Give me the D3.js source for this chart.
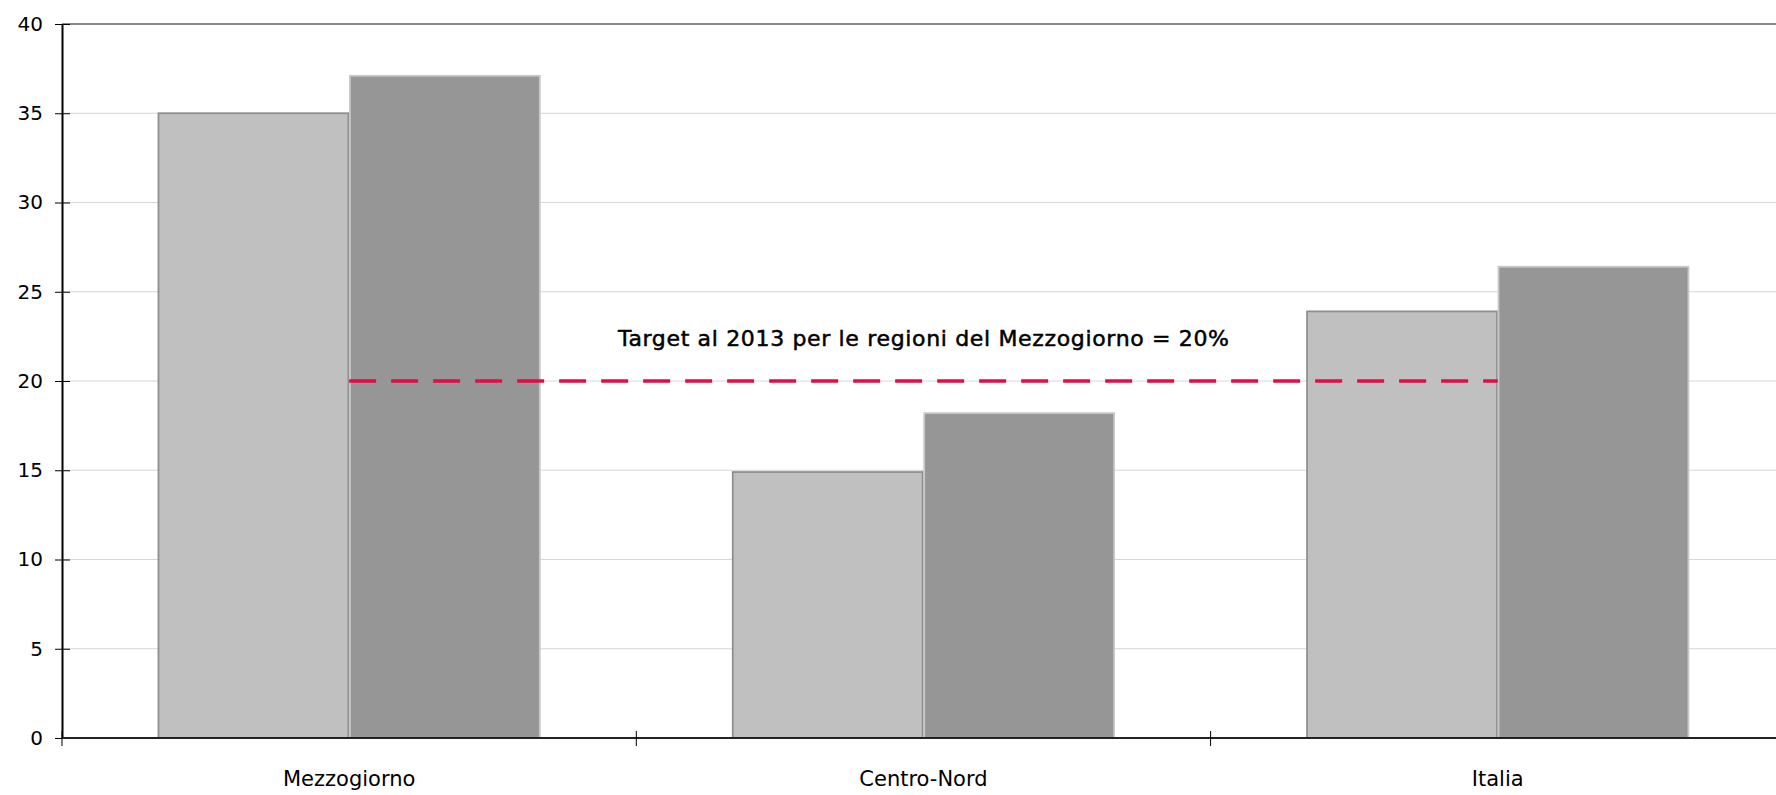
<!DOCTYPE html>
<html>
<head>
<meta charset="utf-8">
<script src="https://cdnjs.cloudflare.com/ajax/libs/d3/7.8.5/d3.min.js"></script>
<style>
  html, body { margin: 0; padding: 0; background: #fff; overflow: hidden; }
  svg { display: block; font-family: "DejaVu Sans", sans-serif; }
</style>
</head>
<body>
<div id="chart"></div>
<script>
  // data
  var categories = ["Mezzogiorno", "Centro-Nord", "Italia"];
  var series = ["serie1", "serie2"];
  var serie1 = [35.0, 14.9, 23.9];
  var serie2 = [37.1, 18.2, 26.4];
  var yTicks = [0, 5, 10, 15, 20, 25, 30, 35, 40];
  var target = 20;
  var targetLabel = "Target al 2013 per le regioni del Mezzogiorno = 20%";

  var width = 1776, height = 795;
  var margin = {top: 24, left: 62, bottom: 57};
  var bandW = 574.3;

  var svg = d3.select("#chart").append("svg")
      .attr("width", width)
      .attr("height", height);

  var x0 = d3.scaleBand()
      .domain(categories)
      .range([margin.left, margin.left + bandW * categories.length])
      .padding(0);
  var x1 = d3.scaleBand()
      .domain(series)
      .range([0, x0.bandwidth()])
      .paddingInner(0)
      .paddingOuter(0.5);
  var y = d3.scaleLinear()
      .domain([0, 40])
      .range([height - margin.bottom, margin.top]);

  var fills = {serie1: "#c0c0c0", serie2: "#969696"};
  var strokes = {serie1: "#8f8f8f", serie2: "#c8c8c8"};

  // gridlines
  svg.append("g").selectAll("line")
    .data(yTicks.filter(function(d) { return d > 0; }))
    .enter().append("line")
      .attr("x1", margin.left).attr("x2", width)
      .attr("y1", function(d) { return y(d); })
      .attr("y2", function(d) { return y(d); })
      .attr("stroke", function(d) { return d === 40 ? "#8a8a8a" : "#d6d6d6"; })
      .attr("stroke-width", function(d) { return d === 40 ? 2 : 1; });

  // bars
  var rows = categories.map(function(c, i) {
    return {cat: c, vals: [{s: "serie1", v: serie1[i]}, {s: "serie2", v: serie2[i]}]};
  });
  var groups = svg.append("g").selectAll("g")
    .data(rows)
    .enter().append("g")
      .attr("transform", function(d) { return "translate(" + x0(d.cat) + ",0)"; });
  groups.selectAll("rect")
    .data(function(d) { return d.vals; })
    .enter().append("rect")
      .attr("x", function(d) { return x1(d.s) + 0.75; })
      .attr("y", function(d) { return y(d.v); })
      .attr("width", x1.bandwidth() - 1.5)
      .attr("height", function(d) { return y(0) - y(d.v); })
      .attr("fill", function(d) { return fills[d.s]; })
      .attr("stroke", function(d) { return strokes[d.s]; })
      .attr("stroke-width", 1.8);

  // y axis
  var yAxis = svg.append("g")
      .attr("transform", "translate(" + margin.left + ",0)")
      .call(d3.axisLeft(y).tickValues(yTicks).tickSize(7).tickSizeOuter(0));
  yAxis.select(".domain").attr("stroke", "#000").attr("stroke-width", 2);
  yAxis.selectAll(".tick line").attr("stroke", "#000").attr("x2", 8).attr("x1", -7);
  yAxis.selectAll(".tick text")
      .attr("x", -19)
      .attr("font-size", 20)
      .attr("font-family", "DejaVu Sans")
      .attr("fill", "#000");

  // x axis
  var xAxisG = svg.append("g")
      .attr("transform", "translate(0," + y(0) + ")");
  xAxisG.append("line")
      .attr("x1", margin.left).attr("x2", width)
      .attr("stroke", "#222").attr("stroke-width", 2);
  xAxisG.selectAll(".xtick")
    .data(categories)
    .enter().append("line")
      .attr("class", "xtick")
      .attr("x1", function(d) { return x0(d); })
      .attr("x2", function(d) { return x0(d); })
      .attr("y1", -7).attr("y2", 8)
      .attr("stroke", "#000").attr("stroke-width", 1);
  xAxisG.selectAll(".xlabel")
    .data(categories)
    .enter().append("text")
      .attr("class", "xlabel")
      .attr("x", function(d) { return x0(d) + x0.bandwidth() / 2; })
      .attr("y", 48)
      .attr("text-anchor", "middle")
      .attr("font-size", 21)
      .attr("fill", "#000")
      .text(function(d) { return d; });

  // target line
  var c0 = categories[0], c2 = categories[2];
  svg.append("line")
      .attr("x1", x0(c0) + x0.bandwidth() / 2)
      .attr("x2", x0(c2) + x0.bandwidth() / 2)
      .attr("y1", y(target)).attr("y2", y(target))
      .attr("stroke", "#e30b48")
      .attr("stroke-width", 3.5)
      .attr("stroke-dasharray", "27 15");

  svg.append("text")
      .attr("x", x0(categories[1]) + x0.bandwidth() / 2)
      .attr("y", y(target) - 35)
      .attr("text-anchor", "middle")
      .attr("font-size", 22)
      .attr("textLength", 611)
      .attr("lengthAdjust", "spacing")
      .attr("fill", "#000")
      .attr("stroke", "#000")
      .attr("stroke-width", 0.5)
      .text(targetLabel);
</script>
</body>
</html>
